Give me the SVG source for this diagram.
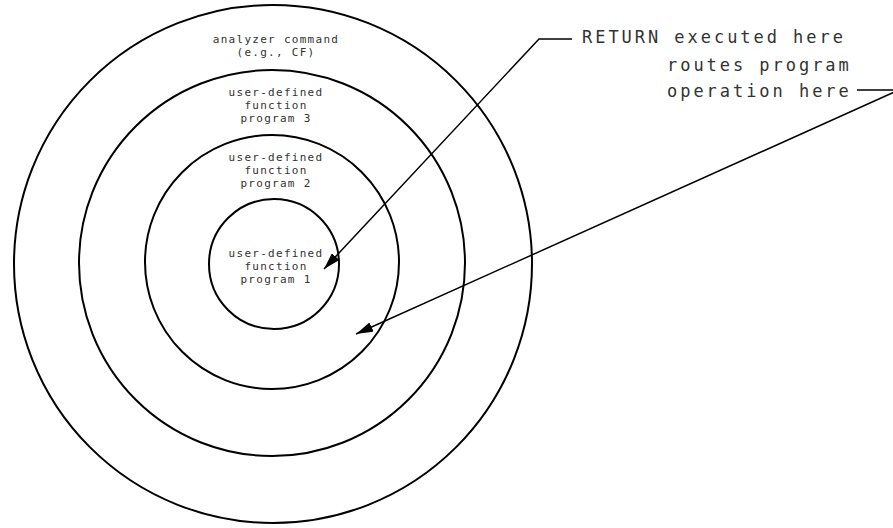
<svg xmlns="http://www.w3.org/2000/svg" width="893" height="528" viewBox="0 0 893 528">
<style>
.ring{fill:none;stroke:#000;stroke-width:2}
.s{font-family:"DejaVu Sans Mono","Liberation Mono",monospace;font-size:11px;letter-spacing:1.28px;fill:#333;text-anchor:middle}
.b{font-family:"DejaVu Sans Mono","Liberation Mono",monospace;font-size:17px;letter-spacing:2.96px;fill:#333}
.lead{fill:none;stroke:#000;stroke-width:1.5}
</style>
<defs>
<marker id="ah" viewBox="0 0 17 10" refX="17" refY="5" markerWidth="17" markerHeight="10" orient="auto" markerUnits="userSpaceOnUse">
<path d="M0,0 L17,5 L0,10 z" fill="#000"/>
</marker>
</defs>
<g id="ring-analyzer">
<circle class="ring" cx="273" cy="264" r="259"/>
<text class="s" x="276" y="43">analyzer command</text>
<text class="s" x="276" y="56">(e.g., CF)</text>
</g>
<g id="ring-program3">
<circle class="ring" cx="272" cy="263" r="193"/>
<text class="s" x="276" y="96">user-defined</text>
<text class="s" x="276" y="109">function</text>
<text class="s" x="276" y="122">program 3</text>
</g>
<g id="ring-program2">
<circle class="ring" cx="272" cy="262" r="127"/>
<text class="s" x="276" y="161">user-defined</text>
<text class="s" x="276" y="174">function</text>
<text class="s" x="276" y="187">program 2</text>
</g>
<g id="ring-program1">
<circle class="ring" cx="274" cy="264" r="65"/>
<text class="s" x="276" y="257">user-defined</text>
<text class="s" x="276" y="270">function</text>
<text class="s" x="276" y="283">program 1</text>
</g>
<g id="note">
<text class="b" x="582" y="43">RETURN executed here</text>
<text class="b" x="667" y="71">routes program</text>
<text class="b" x="667" y="97">operation here</text>
</g>
<g id="connectors">
<path class="lead" d="M572,39 L539,39 L324,269" marker-end="url(#ah)"/>
<path class="lead" d="M857,90 L899,90 L356,334" marker-end="url(#ah)"/>
</g>
</svg>
